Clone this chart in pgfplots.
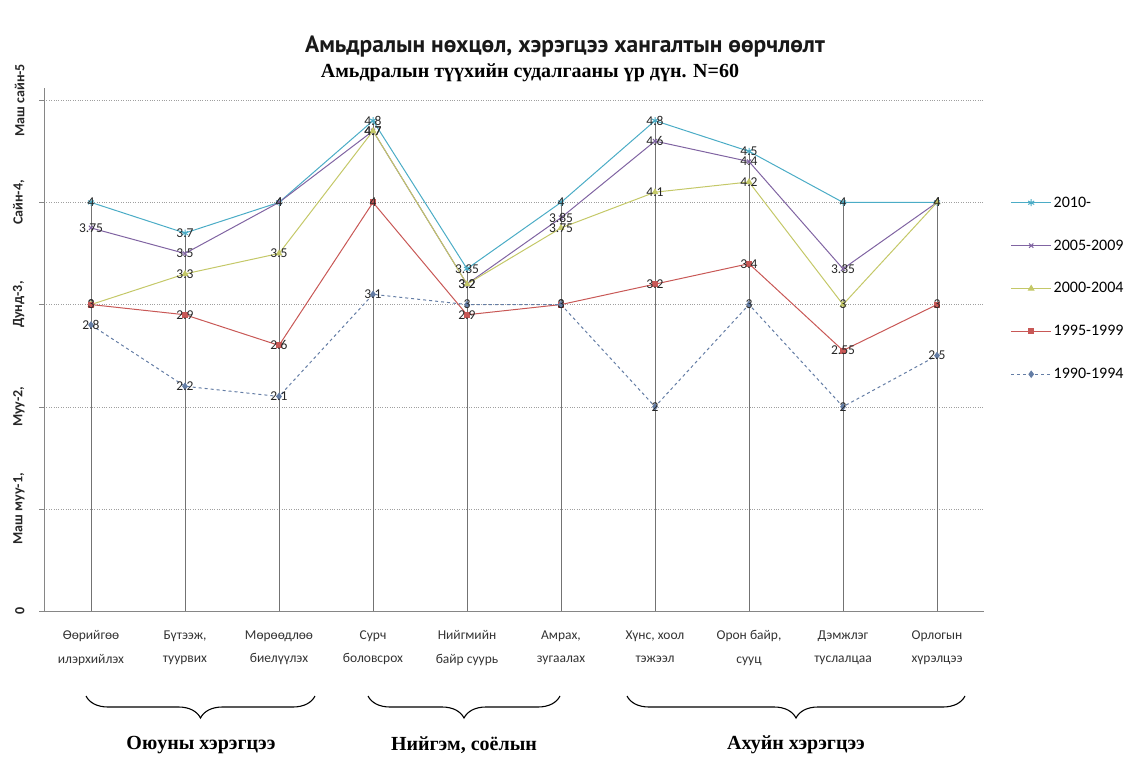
\documentclass[border=0pt]{standalone}
\usepackage{fontspec}
\setmainfont{Liberation Serif}
\newfontfamily\carlito{Carlito}
\newfontfamily\ptsans{PT Sans}
\usepackage{pgfplots}
\pgfplotsset{compat=1.18}
\usepackage{pgfplotstable}
\usetikzlibrary{decorations.pathreplacing}

\definecolor{cA}{RGB}{75,172,198}
\definecolor{cB}{RGB}{128,100,162}
\definecolor{cC}{RGB}{196,200,104}
\definecolor{cD}{RGB}{200,88,86}
\definecolor{cE}{RGB}{100,125,165}
\definecolor{axgray}{RGB}{134,134,134}
\definecolor{dropgray}{RGB}{115,115,115}

\pgfplotsset{mylegend/.style={legend image code/.code={\draw[mark repeat=2,mark phase=2,##1] plot coordinates {(0pt,0pt) (20pt,0pt) (40pt,0pt)};}}}

\pgfplotstableread{
x  a    b    c    d    e    m
0  4    3.75 3    3    2.8  4
1  3.7  3.5  3.3  2.9  2.2  3.7
2  4    4    3.5  2.6  2.1  4
3  4.8  4.7  4.7  4    3.1  4.8
4  3.35 3.2  3.2  2.9  3    3.35
5  4    3.85 3.75 3    3    4
6  4.8  4.6  4.1  3.2  2    4.8
7  4.5  4.4  4.2  3.4  3    4.5
8  4    3.35 3    2.55 2    4
9  4    4    4    3    2.5  4
}\data

\begin{document}
\begin{tikzpicture}[x=1pt,y=1pt]
\path[use as bounding box] (0,0) rectangle (1130,756);
\node[font=\ptsans\bfseries\fontsize{23.5}{26}\selectfont, text=black!90] at (565,709) {Амьдралын нөхцөл, хэрэгцээ хангалтын өөрчлөлт};
\node[font=\bfseries\fontsize{20}{23}\selectfont] at (530,683) {Амьдралын түүхийн судалгааны үр дүн. N=60};
\begin{axis}[
  at={(44pt,145pt)}, anchor=south west,
  scale only axis, width=940pt, height=523pt,
  xmin=-0.5, xmax=9.5, ymin=0, ymax=5.12,
  axis x line*=bottom, axis y line*=left,
  axis line style={draw=axgray, line width=1pt},
  xtick={0,...,9},
  xticklabels={{Өөрийгөө\\илэрхийлэх},{Бүтээж,\\туурвих},{Мөрөөдлөө\\биелүүлэх},{Сурч\\боловсрох},{Нийгмийн\\байр суурь},{Амрах,\\зугаалах},{Хүнс, хоол\\тэжээл},{Орон байр,\\сууц},{Дэмжлэг\\туслалцаа},{Орлогын\\хүрэлцээ}},
  xticklabel style={align=center, font=\carlito\fontsize{13.5}{23.5}\selectfont, text=black!80, yshift=-11pt},
  xtick style={draw=none},
  ytick={0,...,5},
  yticklabels={0,{Маш муу-1,},{Муу-2,},{Дунд-3,},{Сайн-4,},{Маш сайн-5}},
  yticklabel style={rotate=90, anchor=south, font=\carlito\bfseries\fontsize{14}{16}\selectfont, text=black!85},
  yticklabel shift=11pt,
  ytick style={draw=axgray},
  tick align=outside, major tick length=5pt,
  ymajorgrids, grid style={dotted, draw=gray!75},
  /pgf/number format/assume math mode=true,
  nodes near coords,
  every node near coord/.append style={anchor=center, font=\carlito\fontsize{13.5}{15}\selectfont, text=black!85, inner sep=1pt},
  clip=false,
  legend style={draw=none, fill=none, at={(1.025,0.80)}, anchor=north west, font=\carlito\fontsize{16}{18}\selectfont, row sep=27pt, cells={anchor=west}},
]
\addplot[ycomb, draw=dropgray, line width=0.8pt, no markers, forget plot, nodes near coords=] table[x=x,y=m] {\data};
\addplot[mylegend, color=cA, line width=1pt, mark=asterisk, mark size=3.5pt, mark options={solid}] table[x=x,y=a] {\data};
\addlegendentry{2010-}
\addplot[mylegend, color=cB, line width=1pt, mark=x, mark size=3pt, mark options={solid}] table[x=x,y=b] {\data};
\addlegendentry{2005-2009}
\addplot[mylegend, color=cC, line width=1pt, mark=triangle*, mark size=3pt, mark options={solid}] table[x=x,y=c] {\data};
\addlegendentry{2000-2004}
\addplot[mylegend, color=cD, line width=1pt, mark=square*, mark size=2.5pt, mark options={solid}] table[x=x,y=d] {\data};
\addlegendentry{1995-1999}
\addplot[mylegend, color=cE, line width=1pt, dashed, mark=diamond*, mark size=3pt, mark options={solid}] table[x=x,y=e] {\data};
\addlegendentry{1990-1994}
\end{axis}
\draw[line width=1.1pt, decorate, decoration={brace, mirror, amplitude=22pt}] (86,60) -- (315,60);
\draw[line width=1.1pt, decorate, decoration={brace, mirror, amplitude=22pt}] (368,60) -- (560,60);
\draw[line width=1.1pt, decorate, decoration={brace, mirror, amplitude=22pt}] (627,60) -- (965,60);
\node[font=\bfseries\fontsize{20}{23}\selectfont] at (201,11) {Оюуны хэрэгцээ};
\node[font=\bfseries\fontsize{20}{23}\selectfont] at (464,11) {Нийгэм, соёлын};
\node[font=\bfseries\fontsize{20}{23}\selectfont] at (796,11) {Ахуйн хэрэгцээ};
\end{tikzpicture}
\end{document}
